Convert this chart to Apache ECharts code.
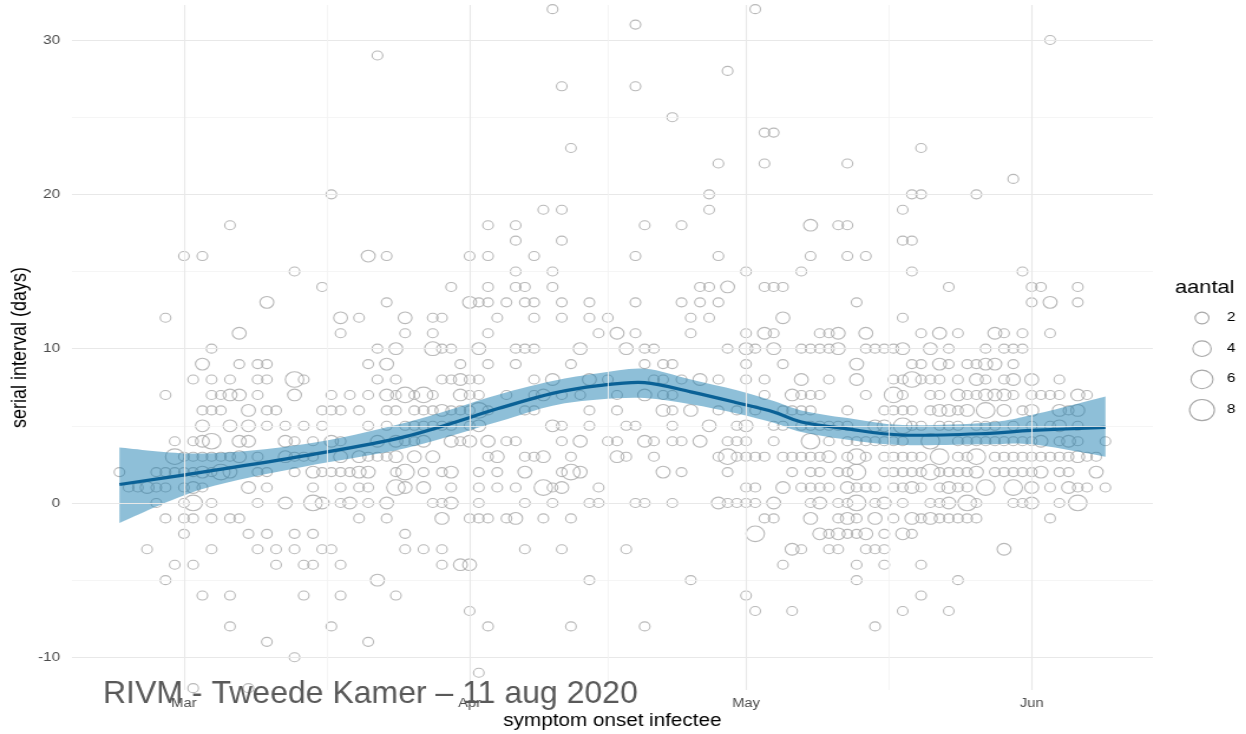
<!DOCTYPE html>
<html>
<head>
<meta charset="utf-8">
<script src="https://cdn.jsdelivr.net/npm/echarts@6/dist/echarts.min.js"></script>
<style>
html,body{margin:0;padding:0;background:#fff;overflow:hidden;}
#wrap{width:1246px;height:734px;overflow:hidden;position:relative;}
#chart{height:734px;transform-origin:0 0;position:absolute;left:0;top:0;}
</style>
</head>
<body>
<div id="wrap"><div id="chart"></div></div>
<script>
// x values are days since 1 March 2020 (symptom onset infectee)
const monthTicks = [0, 31, 61, 92];
const monthLabels = ['Mar', 'Apr', 'May', 'Jun'];
const monthMinor = [15.5, 46, 76.5];
const yMajor = [-10, 0, 10, 20, 30];
const yMinor = [-5, 5, 15, 25];

// serial interval rows: [value, entries]; entry = day (aantal 1) or [day, aantal]
const rowsByValue = [
  [32, [40, 62]],
  [31, [49]],
  [30, [94]],
  [29, [21]],
  [28, [59]],
  [27, [41, 49]],
  [25, [53]],
  [24, [63, 64]],
  [23, [42, 80]],
  [22, [58, 63, 72]],
  [21, [90]],
  [20, [16, 57, 79, 80, 86]],
  [19, [39, 41, 57, 78]],
  [18, [5, 33, 36, 50, 54, [68,2], 71, 72]],
  [17, [36, 41, 78, 79]],
  [16, [0, 2, [20,2], 22, 31, 33, 38, 49, 58, 68, 72, 74]],
  [15, [12, 36, 40, 61, 67, 79, 91]],
  [14, [15, 29, 33, 36, 37, 40, 56, 57, [59,2], 63, 64, 65, 83, 92, 93, 97]],
  [13, [[9,2], 22, [31,2], 32, 33, 35, 37, 38, 41, 44, 49, 54, 56, 58, 73, 92, [94,2], 97]],
  [12, [-2, [17,2], 19, [24,2], 27, 28, 34, 38, 41, 44, 46, 55, 57, [65,2], 78]],
  [11, [[6,2], 17, 24, 27, 33, 45, [47,2], 49, 55, 61, [63,2], 64, 69, 70, [71,2], [74,2], 80, [82,2], 84, [88,2], 89, 91, 94]],
  [10, [3, 21, [23,2], [27,3], 28, 29, [32,2], 36, 37, 38, [43,2], [48,2], 50, 51, 59, [61,2], 62, [64,2], 67, 68, 69, 70, [71,2], 74, 75, 76, 77, [78,2], [81,2], 83, 87, 89, 90, 91]],
  [9, [[2,2], 6, 8, 9, 20, [22,2], 30, 33, 36, 42, 50, 52, 53, 61, 65, [73,2], 79, 80, [82,2], 83, 85, 86, [87,2], [88,2], 90]],
  [8, [1, 3, 5, 8, 9, [12,4], 13, 21, 23, 28, 29, [30,2], 31, 32, 38, [40,2], [44,2], 46, 51, 52, 54, [56,2], 58, 61, 63, [67,2], 70, [73,2], 77, 78, [79,4], 80, 81, 82, 84, [86,2], 87, 89, [90,2], [92,2], 95]],
  [7, [-2, 3, 4, [5,2], [6,2], 8, [12,2], 16, 18, 20, [22,2], 23, [24,4], 25, [26,4], 27, [30,2], 31, 32, 35, 38, [39,2], 41, 43, 47, [50,2], 52, 53, 63, [66,2], 67, 68, 69, 74, [77,4], 78, 81, 82, [84,2], 85, 86, [87,2], [88,2], [89,2], 90, 92, 93, 94, 95, [97,2], 98]],
  [6, [2, 3, 4, [7,2], 9, 10, 15, 16, 17, 19, 22, 23, 25, 26, 27, [28,2], 29, 30, 31, [32,4], 33, 37, 38, 44, 47, [52,2], 53, [55,2], 58, 60, 62, 65, 66, 67, 68, 72, 76, 77, 78, 79, 81, [82,2], [83,2], 84, [85,2], [87,4], [89,2], 91, [92,2], [95,2], 96, [97,2]]],
  [5, [[2,2], [5,2], [7,2], 9, 11, 13, 15, 20, 22, 24, 25, 26, 27, 28, 29, 31, [32,2], [40,2], 41, 44, 48, 49, 53, [57,2], 60, [61,2], 64, 65, 67, 68, 69, 70, 71, 72, [75,2], [76,2], [78,4], 79, 80, 82, 83, 84, 86, 87, 88, 90, 92, 94, [95,2], 97]],
  [4, [-1, 1, [2,2], [3,4], [6,2], [7,2], [11,2], 12, 14, [16,2], 17, [21,2], [23,2], 24, 25, [26,2], [29,2], 30, [31,2], [33,2], 35, 36, 41, [43,2], 46, 47, [50,2], 51, 53, 54, [56,2], 59, 60, 61, 64, [68,4], 70, 72, 73, 74, 75, 76, 77, 78, [81,4], 84, 85, 86, 87, 88, 89, 90, 91, 92, [93,2], 95, [96,2], 97, 100]],
  [3, [[-1,4], 0, 1, 2, 3, 4, 5, [6,2], 8, [11,2], 12, 13, 14, [17,2], [19,2], 20, 21, 22, [23,2], [25,2], [27,2], 33, [34,2], 37, 38, [39,2], 42, [47,2], 48, 51, 58, [59,4], 60, 61, 62, 63, 65, 66, 67, 68, 69, [70,2], 72, [73,4], 74, 76, 77, 78, 79, 80, [82,4], 84, 85, [86,4], 88, 89, 90, 91, 92, 93, 94, 95, 96, [97,2], 98, 99]],
  [2, [-7, -3, -2, -1, 0, 1, [2,2], 3, [4,4], [5,2], 8, 9, 12, [14,2], 15, 16, 17, 18, [19,2], [20,2], 23, [24,4], 26, 28, [29,2], 32, 34, [37,2], 41, [42,4], [43,2], [52,2], 54, 59, 66, 68, 69, 71, 72, [73,4], 76, 77, 78, 79, 80, [81,4], 82, 83, 84, 85, [86,2], 88, 89, 90, 91, 92, [93,2], 95, 96, [99,2]]],
  [1, [-6, -5, [-4,2], -3, -2, 0, [1,2], 2, [7,2], 9, 14, 17, 19, 20, [23,4], [24,2], [26,2], 29, 32, 34, 36, [39,4], 40, [41,2], 45, 61, 62, [65,2], 67, 68, 69, 70, [72,2], 73, 74, 75, 77, 78, [79,2], 80, 82, [83,2], 84, 85, [87,4], [90,4], [92,2], 94, [96,2], 97, 98, 100]],
  [0, [-3, 0, [1,4], 3, 8, [11,2], [14,4], [15,2], 17, [18,2], 20, [22,2], 27, 28, [29,2], 32, 37, 40, 44, 45, 49, 50, 53, [58,2], 59, 60, 61, 62, [64,2], 68, [69,2], 71, 72, [73,4], 75, [76,2], 78, 81, 82, [83,2], [85,4], 86, 90, 91, [92,2], 95, [97,4]]],
  [-1, [-2, 0, 1, 3, 5, 6, 19, 22, [28,2], 31, 32, 33, 35, [36,2], 39, 42, 63, 64, [68,2], 71, [72,2], 73, [75,2], 77, [79,2], 80, [81,2], 82, 83, 84, 85, 86, 94]],
  [-2, [0, 7, 9, 12, 14, 24, [62,4], [69,2], 70, [71,2], 72, 73, [74,2], 76, [78,2], 79]],
  [-3, [-4, 3, 8, 10, 12, 15, 16, 24, 26, 28, 37, 41, 48, [66,2], 67, 70, 71, 74, 75, 76, [89,2]]],
  [-4, [-1, 1, 10, 13, 14, 17, 28, [30,2], [31,2], 65, 73, 76, 80]],
  [-5, [-2, [21,2], 44, 55, 73, 84]],
  [-6, [2, 5, 13, 17, 23, 61, 80]],
  [-7, [31, 62, 66, 78, 83]],
  [-8, [5, 16, 33, 42, 50, 75]],
  [-9, [9, 20]],
  [-10, [12]],
  [-11, [32]],
  [-12, [1, 7]]
];

// smoothed trend (loess) with confidence band
const smoothDays = [-7, 2, 13, 24, 34, 40, 45, 50, 55, 60, 64, 67, 72, 78, 87, 92, 100];
const smoothFit  = [1.2, 2.0, 3.05, 4.3, 6.1, 7.1, 7.6, 7.8, 7.2, 6.5, 5.9, 5.25, 4.8, 4.4, 4.5, 4.7, 4.9];
const smoothLo   = [-1.3, 0.9, 2.35, 3.55, 5.25, 6.3, 6.7, 6.8, 6.4, 5.8, 5.2, 4.6, 4.1, 3.75, 3.8, 3.8, 3.0];
const smoothHi   = [3.6, 3.2, 3.8, 5.2, 7.0, 7.9, 8.4, 8.7, 8.0, 7.3, 6.6, 6.0, 5.5, 5.05, 5.2, 5.7, 6.9];

const legendCounts = [2, 4, 6, 8];
const legendTitle = 'aantal';
const xTitle = 'symptom onset infectee';
const yTitle = 'serial interval (days)';
const watermark = 'RIVM - Tweede Kamer \u2013 11 aug 2020';

// ---------- build ----------
const S = 1.18;                       // horizontal stretch of the original picture
const CW = Math.round(1246 / S);
const chartDiv = document.getElementById('chart');
chartDiv.style.width = CW + 'px';
chartDiv.style.transform = 'scaleX(' + S + ')';

const points = [];
rowsByValue.forEach(([v, entries]) => {
  entries.forEach(e => {
    if (Array.isArray(e)) points.push([e[0], v, e[1]]);
    else points.push([e, v, 1]);
  });
});
function circleSize(n) { return 2.4 + 6.6 * Math.sqrt(n); }

const FONT = 'Liberation Sans, Arial, Helvetica, sans-serif';
const GRID = { left: 61, right: CW - 977, top: 5, bottom: 44, outerBoundsMode: 'none', containLabel: false };
const X_MIN = -12.15, X_MAX = 105.15, Y_MIN = -12.12, Y_MAX = 32.27;
const tickColor = '#4d4d4d';
const circleColor = '#a8a8a8';

const majorLine = { color: '#e8e8e8', width: 1.1, type: 'solid' };
const minorLine = { color: '#f2f2f2', width: 0.8, type: 'solid' };

const gridMarks = [];
yMajor.forEach(v => gridMarks.push({ yAxis: v, lineStyle: majorLine,
  label: { show: true, position: 'start', formatter: String(v), color: tickColor, fontSize: 13, distance: 10, fontFamily: FONT } }));
yMinor.forEach(v => gridMarks.push({ yAxis: v, lineStyle: minorLine, label: { show: false } }));
monthTicks.forEach((d, i) => gridMarks.push({ xAxis: d, lineStyle: majorLine,
  label: { show: true, position: 'start', formatter: monthLabels[i], color: tickColor, fontSize: 12.5, distance: 7, fontFamily: FONT } }));
monthMinor.forEach(d => gridMarks.push({ xAxis: d, lineStyle: minorLine, label: { show: false } }));

// Catmull-Rom -> cubic bezier path through pixel points
function splineCmds(pts, startWithMove) {
  let d = startWithMove ? 'M' + pts[0][0] + ',' + pts[0][1] : 'L' + pts[0][0] + ',' + pts[0][1];
  for (let i = 0; i < pts.length - 1; i++) {
    const p0 = pts[Math.max(i - 1, 0)], p1 = pts[i], p2 = pts[i + 1], p3 = pts[Math.min(i + 2, pts.length - 1)];
    const c1 = [p1[0] + (p2[0] - p0[0]) / 6, p1[1] + (p2[1] - p0[1]) / 6];
    const c2 = [p2[0] - (p3[0] - p1[0]) / 6, p2[1] - (p3[1] - p1[1]) / 6];
    d += 'C' + c1[0] + ',' + c1[1] + ',' + c2[0] + ',' + c2[1] + ',' + p2[0] + ',' + p2[1];
  }
  return d;
}

function renderBand(params, api) {
  const hi = smoothDays.map((d, i) => api.coord([d, smoothHi[i]]));
  const lo = smoothDays.map((d, i) => api.coord([d, smoothLo[i]])).reverse();
  const path = splineCmds(hi, true) + splineCmds(lo, false) + 'Z';
  return { type: 'path', shape: { pathData: path }, style: { fill: 'rgba(29,127,177,0.5)', stroke: 'none' }, silent: true };
}
function renderFit(params, api) {
  const pts = smoothDays.map((d, i) => api.coord([d, smoothFit[i]]));
  return { type: 'path', shape: { pathData: splineCmds(pts, true) }, style: { fill: 'none', stroke: '#0a6196', lineWidth: 3.2 }, silent: true };
}

// legend graphic
const legendX = 1202 / S, legendY0 = 318, legendStep = 30.7;
const legendGraphics = [{
  type: 'text', left: 1175 / S, top: 278,
  style: { text: legendTitle, fontSize: 18.5, fill: '#000', fontFamily: FONT }
}];
legendCounts.forEach((n, i) => {
  const d = circleSize(n);
  legendGraphics.push({
    type: 'circle', shape: { cx: legendX, cy: legendY0 + i * legendStep, r: d / 2 },
    style: { fill: 'none', stroke: circleColor, lineWidth: 1.1 }
  });
  legendGraphics.push({
    type: 'text', left: 1227 / S, top: legendY0 + i * legendStep - 7,
    style: { text: String(n), fontSize: 13, fill: '#000', fontFamily: FONT }
  });
});

const chart = echarts.init(chartDiv, null, { renderer: 'canvas', width: CW, height: 734 });
chart.setOption({
  animation: false,
  backgroundColor: '#fff',
  grid: GRID,
  xAxis: {
    type: 'value', min: X_MIN, max: X_MAX,
    axisLine: { show: false }, axisTick: { show: false }, axisLabel: { show: false }, splitLine: { show: false },
    name: xTitle, nameLocation: 'middle', nameGap: 22,
    nameTextStyle: { fontSize: 17.5, color: '#000', fontFamily: FONT }
  },
  yAxis: {
    type: 'value', min: Y_MIN, max: Y_MAX,
    axisLine: { show: false }, axisTick: { show: false }, axisLabel: { show: false }, splitLine: { show: false },
    name: yTitle, nameLocation: 'middle', nameGap: 35, nameRotate: 90,
    nameTextStyle: { fontSize: 18, color: '#000', fontFamily: FONT }
  },
  series: [
    {
      type: 'line', data: [[X_MIN, Y_MIN]], symbol: 'none', lineStyle: { opacity: 0 }, z: 1, silent: true,
      markLine: { silent: true, symbol: ['none', 'none'], data: gridMarks, animation: false }
    },
    {
      type: 'scatter', data: points, z: 2, silent: true,
      symbol: 'circle',
      symbolSize: d => circleSize(d[2]),
      itemStyle: { color: 'rgba(0,0,0,0)', borderColor: circleColor, borderWidth: 1.1 }
    },
    { type: 'custom', data: [[0, 0]], renderItem: renderBand, z: 3, silent: true },
    { type: 'custom', data: [[0, 0]], renderItem: renderFit, z: 4, silent: true }
  ],
  graphic: legendGraphics.concat([{
    type: 'text', left: 103 / S, top: 678, z: 100, scaleX: 1 / S,
    style: { text: watermark, fontSize: 32, fill: '#595959', fontFamily: FONT }
  }])
});
</script>
</body>
</html>
